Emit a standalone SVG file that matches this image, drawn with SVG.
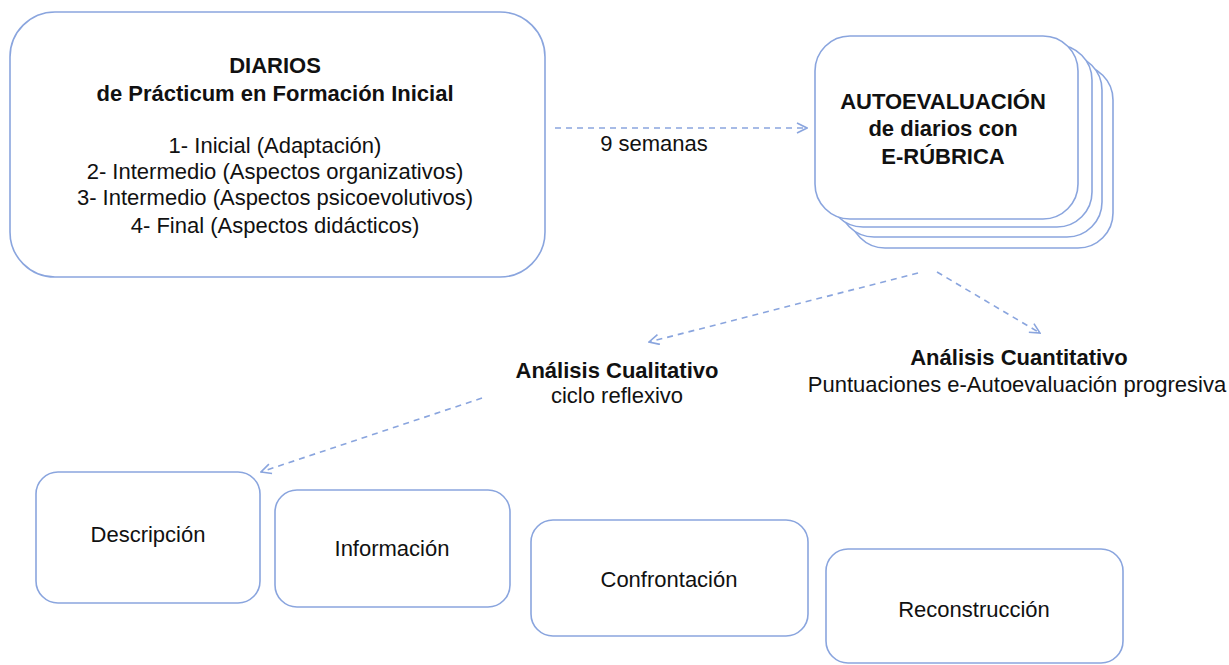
<svg xmlns="http://www.w3.org/2000/svg" width="1229" height="665" viewBox="0 0 1229 665">
<style>
.box{fill:#fff;stroke:#8aa5de;stroke-width:1.6}
.t{font-family:"Liberation Sans",Arial,sans-serif;font-size:22px;fill:#111;text-anchor:middle}
.b{font-weight:bold}
.c{fill:none;stroke:#8aa5de;stroke-width:1.6;stroke-dasharray:6 5}
</style>
<defs>
<marker id="ah" viewBox="0 0 12 12" refX="11" refY="6" markerWidth="12" markerHeight="12" markerUnits="userSpaceOnUse" orient="auto">
<path d="M1,1 L11,6 L1,11" fill="none" stroke="#8aa5de" stroke-width="1.6"/>
</marker>
</defs>
<rect width="1229" height="665" fill="#fff"/>
<g id="diarios">
<rect class="box" x="10" y="12" width="535" height="265" rx="45"/>
<text class="t b" x="275" y="73">DIARIOS</text>
<text class="t b" x="275" y="101">de Prácticum en Formación Inicial</text>
<text class="t" x="275" y="153">1- Inicial (Adaptación)</text>
<text class="t" x="275" y="179">2- Intermedio (Aspectos organizativos)</text>
<text class="t" x="275" y="205">3- Intermedio (Aspectos psicoevolutivos)</text>
<text class="t" x="275" y="233">4- Final (Aspectos didácticos)</text>
</g>
<g id="autoevaluacion">
<rect class="box" x="850" y="65" width="263" height="183" rx="35"/>
<rect class="box" x="839" y="55" width="263" height="182" rx="35"/>
<rect class="box" x="828" y="45" width="264" height="182" rx="35"/>
<rect class="box" x="815" y="36" width="263" height="183" rx="35"/>
<text class="t b" x="943" y="109">AUTOEVALUACIÓN</text>
<text class="t b" x="943" y="136">de diarios con</text>
<text class="t b" x="943" y="164">E-RÚBRICA</text>
</g>
<g id="cualitativo">
<text class="t b" x="617" y="378">Análisis Cualitativo</text>
<text class="t" x="617" y="403">ciclo reflexivo</text>
</g>
<g id="cuantitativo">
<text class="t b" x="1019" y="365">Análisis Cuantitativo</text>
<text class="t" x="1017" y="392">Puntuaciones e-Autoevaluación progresiva</text>
</g>
<g id="descripcion">
<rect class="box" x="36" y="472" width="224" height="131" rx="22"/>
<text class="t" x="148" y="542">Descripción</text>
</g>
<g id="informacion">
<rect class="box" x="275" y="490" width="235" height="117" rx="22"/>
<text class="t" x="392" y="556">Información</text>
</g>
<g id="confrontacion">
<rect class="box" x="531" y="520" width="277" height="116" rx="22"/>
<text class="t" x="669" y="587">Confrontación</text>
</g>
<g id="reconstruccion">
<rect class="box" x="826" y="549" width="297" height="114" rx="22"/>
<text class="t" x="974" y="617">Reconstrucción</text>
</g>
<g id="connectors">
<line class="c" x1="555" y1="128" x2="807" y2="128" marker-end="url(#ah)"/>
<text class="t" x="654" y="151">9 semanas</text>
<line class="c" x1="918" y1="273" x2="649" y2="342" marker-end="url(#ah)"/>
<line class="c" x1="937" y1="272" x2="1040" y2="333" marker-end="url(#ah)"/>
<line class="c" x1="482" y1="398" x2="261" y2="472" marker-end="url(#ah)"/>
</g>
</svg>
